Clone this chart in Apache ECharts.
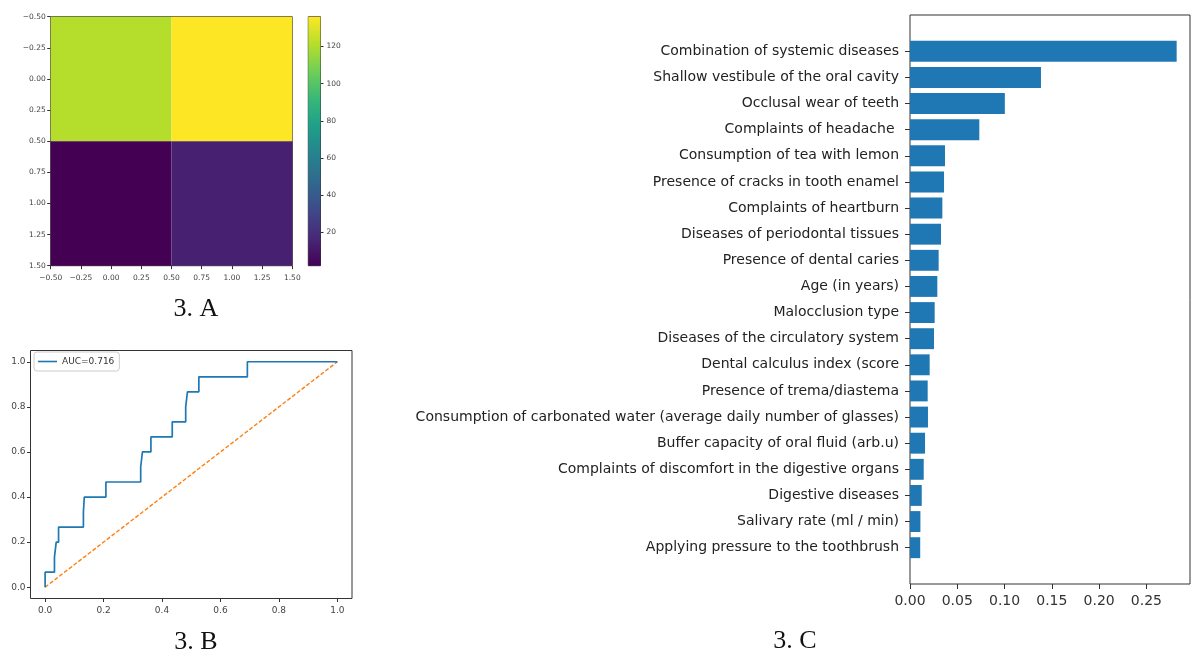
<!DOCTYPE html>
<html>
<head>
<meta charset="utf-8">
<script src="https://cdn.jsdelivr.net/npm/echarts@6/dist/echarts.min.js"></script>
<style>
  html, body { margin: 0; padding: 0; background: #fff; }
  #chart { width: 1192px; height: 657px; }
</style>
</head>
<body>
<div id="chart"></div>
<script>
// ---- Panel A: confusion matrix, cells as [column, row, count] ----
const cmCells = [[0, 0, 121], [1, 0, 136], [0, 1, 2], [1, 1, 14]];
const cbTicks = [20, 40, 60, 80, 100, 120];
const viridis = ['#440154', '#482878', '#3e4989', '#31688e', '#26828e',
                 '#1f9e89', '#35b779', '#6ece58', '#b5de2b', '#fde725'];

// ---- Panel B: ROC curve corner points ----
const rocFpr = [0, 0, 0.032, 0.032, 0.038, 0.038, 0.046, 0.046, 0.131, 0.131, 0.134, 0.134,
                0.208, 0.208, 0.327, 0.327, 0.333, 0.333, 0.362, 0.362, 0.435, 0.435,
                0.481, 0.481, 0.487, 0.487, 0.526, 0.526, 0.692, 0.692, 1.0];
const rocTpr = [0, 0.0667, 0.0667, 0.1333, 0.1333, 0.2, 0.2, 0.2667, 0.2667, 0.3333, 0.3333, 0.4,
                0.4, 0.4667, 0.4667, 0.5333, 0.5333, 0.6, 0.6, 0.6667, 0.6667, 0.7333,
                0.7333, 0.8, 0.8, 0.8667, 0.8667, 0.9333, 0.9333, 1.0, 1.0];
const rocTicks = [0, 0.2, 0.4, 0.6, 0.8, 1.0];
const aucLabel = 'AUC=0.716';

// ---- Panel C: feature importances ----
const features = [
  'Combination of systemic diseases',
  'Shallow vestibule of the oral cavity',
  'Occlusal wear of teeth',
  'Complaints of headache ',
  'Consumption of tea with lemon',
  'Presence of cracks in tooth enamel',
  'Complaints of heartburn',
  'Diseases of periodontal tissues',
  'Presence of dental caries',
  'Age (in years)',
  'Malocclusion type',
  'Diseases of the circulatory system',
  'Dental calculus index (score',
  'Presence of trema/diastema',
  'Consumption of carbonated water (average daily number of glasses)',
  'Buffer capacity of oral fluid (arb.u)',
  'Complaints of discomfort in the digestive organs',
  'Digestive diseases',
  'Salivary rate (ml / min)',
  'Applying pressure to the toothbrush'
];
const importance = [0.282, 0.1385, 0.1003, 0.0733, 0.037, 0.036, 0.0342, 0.0328, 0.0303, 0.0289,
                    0.0261, 0.0254, 0.0208, 0.0187, 0.019, 0.0159, 0.0145, 0.0124, 0.011, 0.0108];
const impTicks = [0, 0.05, 0.1, 0.15, 0.2, 0.25];

// ---- derived ranges ----
const counts = cmCells.map(c => c[2]);
const cmMin = Math.min(...counts), cmMax = Math.max(...counts);
const barH = 0.8;
const nF = features.length;
const pad = 0.05 * (nF - 1 + barH);
const impMax = Math.max(...importance) * 1.05;

const FONT = 'DejaVu Sans';
const INK = '#333';
const minus = v => String(v).replace('-', '\u2212');
const noLine = { show: false, onZero: false };

function rectBetween(a, b) {
  return {
    x: Math.min(a[0], b[0]), y: Math.min(a[1], b[1]),
    width: Math.abs(b[0] - a[0]), height: Math.abs(b[1] - a[1])
  };
}

const frame = { show: true, borderColor: INK, borderWidth: 1, backgroundColor: 'transparent' };

const chart = echarts.init(document.getElementById('chart'), null, { renderer: 'canvas' });

chart.setOption({
  animation: false,
  backgroundColor: '#fff',
  textStyle: { fontFamily: FONT },
  grid: [
    Object.assign({ left: 50.7, top: 16.7, width: 241.6, height: 249 }, frame),   // A: matrix
    Object.assign({ left: 308.3, top: 16.7, width: 12.2, height: 249 }, frame),   // A: colour bar
    Object.assign({ left: 30.5, top: 350.5, width: 321.5, height: 248 }, frame),  // B: ROC
    Object.assign({ left: 910, top: 15, width: 280, height: 569 }, frame)         // C: importances
  ],
  xAxis: [
    {
      gridIndex: 0, type: 'value', position: 'bottom', min: -0.5, max: 1.5, interval: 0.25,
      axisLine: noLine, splitLine: { show: false },
      axisTick: { length: 3.5, lineStyle: { color: INK } },
      axisLabel: { fontSize: 7.5, color: '#444', margin: 8, showMinLabel: true, showMaxLabel: true,
                   formatter: v => minus(v.toFixed(2)) }
    },
    { gridIndex: 1, type: 'value', min: 0, max: 1, show: false },
    {
      gridIndex: 2, type: 'value', position: 'bottom', min: -0.05, max: 1.05,
      axisLine: noLine, splitLine: { show: false },
      axisTick: { length: 3.5, customValues: rocTicks, lineStyle: { color: INK } },
      axisLabel: { fontSize: 9, color: '#444', margin: 8, customValues: rocTicks,
                   formatter: v => v.toFixed(1) }
    },
    {
      gridIndex: 3, type: 'value', position: 'bottom', min: 0, max: impMax,
      axisLine: noLine, splitLine: { show: false },
      axisTick: { length: 5, customValues: impTicks, lineStyle: { color: INK } },
      axisLabel: { fontSize: 14, color: '#333', margin: 10, customValues: impTicks,
                   formatter: v => v.toFixed(2) }
    }
  ],
  yAxis: [
    {
      gridIndex: 0, type: 'value', position: 'left', min: -0.5, max: 1.5, interval: 0.25, inverse: true,
      axisLine: noLine, splitLine: { show: false },
      axisTick: { length: 3.5, lineStyle: { color: INK } },
      axisLabel: { fontSize: 7.5, color: '#444', margin: 5, showMinLabel: true, showMaxLabel: true,
                   formatter: v => minus(v.toFixed(2)) }
    },
    {
      gridIndex: 1, type: 'value', position: 'right', min: cmMin, max: cmMax,
      axisLine: noLine, splitLine: { show: false },
      axisTick: { length: 3, customValues: cbTicks, lineStyle: { color: INK } },
      axisLabel: { fontSize: 7.5, color: '#444', margin: 6, customValues: cbTicks }
    },
    {
      gridIndex: 2, type: 'value', position: 'left', min: -0.05, max: 1.05,
      axisLine: noLine, splitLine: { show: false },
      axisTick: { length: 3.5, customValues: rocTicks, lineStyle: { color: INK } },
      axisLabel: { fontSize: 9, color: '#444', margin: 5, customValues: rocTicks,
                   formatter: v => v.toFixed(1) }
    },
    {
      gridIndex: 3, type: 'value', position: 'left', inverse: true,
      min: -barH / 2 - pad, max: nF - 1 + barH / 2 + pad,
      axisLine: noLine, splitLine: { show: false },
      axisTick: { length: 5, customValues: features.map((_, i) => i), lineStyle: { color: INK } },
      axisLabel: { fontSize: 14, color: '#222', margin: 11,
                   customValues: features.map((_, i) => i),
                   formatter: v => features[Math.round(v)] }
    }
  ],
  visualMap: {
    type: 'continuous', show: false, seriesIndex: 0, dimension: 2,
    min: cmMin, max: cmMax, inRange: { color: viridis }
  },
  legend: {
    data: [{ name: aucLabel, icon: 'rect' }], left: 34, top: 352,
    itemWidth: 19, itemHeight: 1.6, itemGap: 5,
    padding: [5, 5, 5, 4],
    borderColor: '#ccc', borderWidth: 1, borderRadius: 3, backgroundColor: '#fff',
    textStyle: { fontSize: 9, color: '#333', fontFamily: FONT }
  },
  series: [
    {
      // confusion matrix cells
      type: 'custom', xAxisIndex: 0, yAxisIndex: 0,
      encode: { x: 0, y: 1 },
      data: cmCells,
      renderItem: (params, api) => {
        const x = api.value(0), y = api.value(1);
        return {
          type: 'rect',
          shape: rectBetween(api.coord([x - 0.5, y - 0.5]), api.coord([x + 0.5, y + 0.5])),
          style: { fill: api.visual('color') }
        };
      }
    },
    {
      // colour bar spanning the count range
      type: 'custom', xAxisIndex: 1, yAxisIndex: 1,
      encode: { x: 0, y: [1, 2] },
      data: [[0, cmMin, cmMax]],
      renderItem: (params, api) => ({
        type: 'rect',
        shape: rectBetween(api.coord([0, api.value(1)]), api.coord([1, api.value(2)])),
        style: {
          fill: {
            type: 'linear', x: 0, y: 1, x2: 0, y2: 0,
            colorStops: viridis.map((c, i) => ({ offset: i / (viridis.length - 1), color: c }))
          }
        }
      })
    },
    {
      name: aucLabel, type: 'line', xAxisIndex: 2, yAxisIndex: 2,
      data: rocFpr.map((f, i) => [f, rocTpr[i]]),
      symbol: 'none', z: 3,
      lineStyle: { color: '#1f77b4', width: 1.7 },
      itemStyle: { color: '#1f77b4' }
    },
    {
      name: 'chance', type: 'line', xAxisIndex: 2, yAxisIndex: 2,
      data: [[0, 0], [1, 1]], symbol: 'none', z: 2,
      lineStyle: { color: '#ff7f0e', width: 1.4, type: [4, 2] }
    },
    {
      // horizontal importance bars
      type: 'custom', xAxisIndex: 3, yAxisIndex: 3,
      encode: { x: 0, y: 1 },
      data: importance.map((v, i) => [v, i]),
      renderItem: (params, api) => {
        const v = api.value(0), i = api.value(1);
        return {
          type: 'rect',
          shape: rectBetween(api.coord([0, i - barH / 2]), api.coord([v, i + barH / 2])),
          style: { fill: '#1f77b4' }
        };
      }
    }
  ],
  graphic: [
    { type: 'text', x: 196, y: 309, style: { text: '3. A', font: '26px "Liberation Serif"', fill: '#111', textAlign: 'center', textVerticalAlign: 'middle' } },
    { type: 'text', x: 196, y: 642, style: { text: '3. B', font: '26px "Liberation Serif"', fill: '#111', textAlign: 'center', textVerticalAlign: 'middle' } },
    { type: 'text', x: 795, y: 641, style: { text: '3. C', font: '26px "Liberation Serif"', fill: '#111', textAlign: 'center', textVerticalAlign: 'middle' } }
  ]
});
</script>
</body>
</html>
